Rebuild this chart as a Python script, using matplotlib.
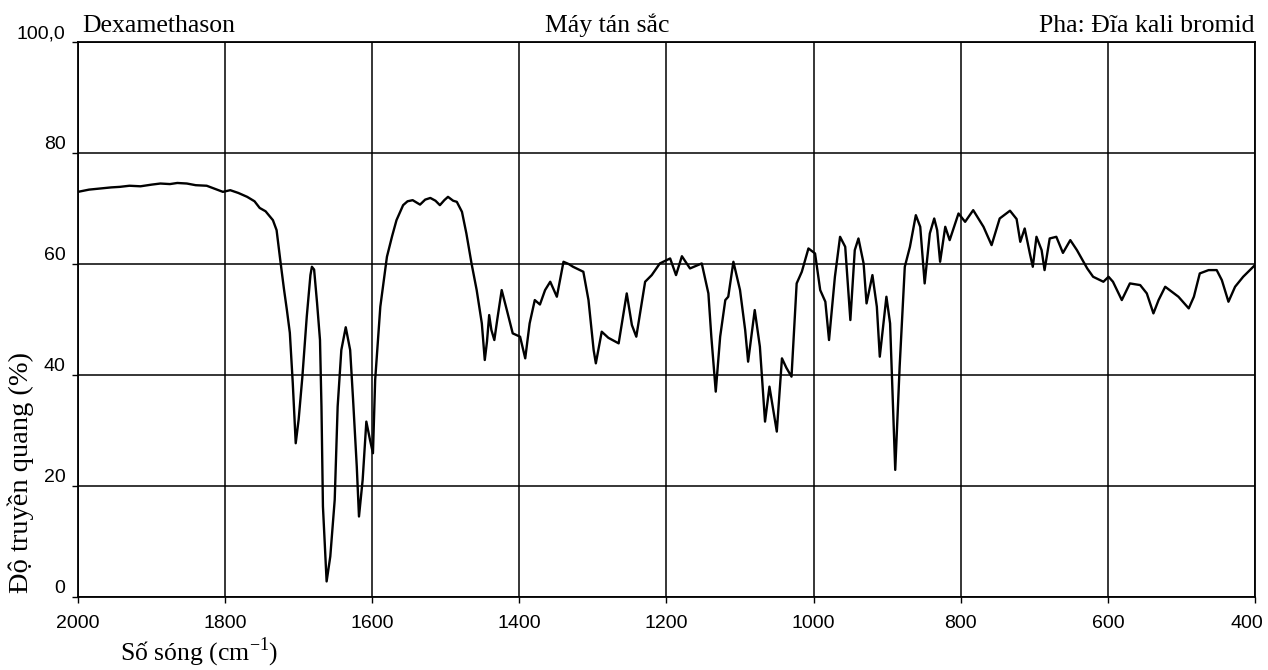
import numpy as np
import matplotlib
matplotlib.use("Agg")
import matplotlib.pyplot as plt
import matplotlib.transforms as mtransforms

# IR spectrum of dexamethasone (KBr disc), transmittance vs wavenumber
wavenumber = [2000, 1985, 1970, 1955, 1943, 1930, 1915, 1900, 1888, 1875, 1865, 1852,
              1840, 1825, 1815, 1803, 1793, 1782, 1770, 1760, 1753, 1745, 1735, 1730,
              1725, 1720, 1716, 1712, 1708, 1704, 1700, 1695, 1689, 1684, 1682, 1679,
              1675, 1671, 1669, 1667, 1662, 1657, 1651, 1647, 1642, 1636, 1630, 1626,
              1621, 1618, 1613, 1608, 1603, 1599, 1596, 1589, 1580, 1573, 1567, 1558,
              1552, 1545, 1535, 1528, 1521, 1514, 1508, 1502, 1497, 1490, 1485, 1478,
              1472, 1465, 1458, 1451, 1447, 1444, 1441, 1438, 1434, 1430, 1424, 1417,
              1409, 1399, 1392, 1386, 1379, 1372, 1365, 1358, 1349, 1340, 1333, 1327,
              1313, 1306, 1299, 1296, 1288, 1279, 1265, 1254, 1247, 1241, 1229, 1220,
              1209, 1195, 1187, 1179, 1168, 1152, 1143, 1139, 1133, 1127, 1120, 1116,
              1109, 1100, 1093, 1089, 1080, 1073, 1066, 1060, 1050, 1043, 1037, 1030,
              1023, 1016, 1007, 998, 991, 984, 979, 971, 964, 957, 950, 944,
              939, 932, 928, 920, 914, 910, 901, 896, 889, 883, 876, 869,
              861, 855, 849, 842, 836, 832, 828, 821, 815, 803, 794, 783,
              769, 758, 747, 733, 724, 719, 713, 706, 702, 697, 690, 686,
              679, 670, 661, 651, 642, 628, 620, 606, 599, 593, 581, 570,
              556, 547, 538, 531, 522, 513, 504, 490, 483, 475, 463, 452,
              445, 436, 427, 416, 400]
transmittance = [73.0, 73.4, 73.6, 73.8, 73.9, 74.1, 74.0, 74.3, 74.5, 74.4, 74.6, 74.5,
                 74.2, 74.1, 73.6, 73.0, 73.3, 72.8, 72.1, 71.3, 70.1, 69.5, 67.9, 66.1,
                 60.7, 55.5, 51.7, 47.6, 38.5, 27.7, 32.0, 39.6, 50.5, 58.0, 59.5, 59.0,
                 53.0, 46.3, 34.3, 16.3, 2.8, 7.3, 17.5, 34.3, 44.5, 48.6, 44.5, 35.5,
                 23.5, 14.5, 21.1, 31.6, 28.3, 25.9, 39.1, 52.3, 61.3, 65.0, 67.9, 70.6,
                 71.3, 71.5, 70.7, 71.6, 71.9, 71.4, 70.6, 71.5, 72.1, 71.4, 71.2, 69.4,
                 65.5, 60.1, 55.3, 49.3, 42.7, 46.0, 50.8, 48.1, 46.3, 50.0, 55.3, 51.7,
                 47.5, 46.9, 43.0, 49.3, 53.5, 52.7, 55.3, 56.8, 54.1, 60.4, 60.0, 59.5,
                 58.6, 53.5, 44.5, 42.1, 47.8, 46.7, 45.7, 54.7, 49.0, 46.9, 56.8, 58.0,
                 60.1, 61.0, 58.0, 61.4, 59.2, 60.1, 54.7, 46.9, 37.0, 46.9, 53.5, 54.1,
                 60.4, 55.3, 48.1, 42.4, 51.7, 45.1, 31.6, 37.9, 29.8, 43.0, 41.3, 39.7,
                 56.5, 58.6, 62.8, 61.9, 55.3, 53.2, 46.3, 57.7, 64.9, 63.1, 49.9, 62.5,
                 64.6, 60.1, 52.9, 58.0, 52.3, 43.3, 54.1, 49.3, 22.9, 41.5, 59.5, 63.1,
                 68.8, 66.7, 56.5, 65.5, 68.2, 66.1, 60.4, 66.7, 64.3, 69.1, 67.6, 69.7,
                 66.7, 63.4, 68.2, 69.6, 68.1, 64.0, 66.4, 61.9, 59.5, 64.9, 62.5, 58.9,
                 64.6, 64.9, 62.0, 64.3, 62.5, 59.2, 57.7, 56.8, 57.7, 56.8, 53.5, 56.5,
                 56.2, 54.7, 51.1, 53.5, 55.9, 55.0, 54.1, 52.0, 54.1, 58.3, 58.9, 58.9,
                 57.1, 53.2, 55.9, 57.7, 59.8]

x_ticks = [2000, 1800, 1600, 1400, 1200, 1000, 800, 600, 400]
y_ticks = [0, 20, 40, 60, 80, 100]
y_tick_labels = ["0", "20", "40", "60", "80", "100,0"]

plt.rcParams["mathtext.fontset"] = "custom"
plt.rcParams["mathtext.rm"] = "Liberation Serif"
serif = ["Liberation Serif", "DejaVu Serif"]

fig = plt.figure(figsize=(12.68, 6.70), dpi=100)
ax = fig.add_axes([0.0615, 0.109, 0.9282, 0.8283])

ax.plot(wavenumber, transmittance, color="black", linewidth=1.7)

ax.set_xlim(2000, 400)
ax.set_ylim(0, 100)
ax.set_xticks(x_ticks)
ax.set_xticklabels([str(t) for t in x_ticks])
ax.set_yticks(y_ticks)
ax.set_yticklabels(y_tick_labels)
ax.grid(True, color="black", linewidth=1.1)
ax.set_axisbelow(True)
for s in ax.spines.values():
    s.set_linewidth(1.3)

ax.tick_params(direction="out", length=4, width=1, colors="black")
ax.tick_params(axis="x", pad=9)
ax.tick_params(axis="y", pad=5)
for lab in ax.get_xticklabels() + ax.get_yticklabels():
    lab.set_fontfamily("Liberation Sans")
    lab.set_fontsize(14)
for lab in ax.get_yticklabels():
    lab.set_verticalalignment("bottom")

# last x label sits a bit inside the right edge
last = ax.get_xticklabels()[-1]
last.set_transform(last.get_transform() +
                   mtransforms.ScaledTranslation(-8 / 100, 0, fig.dpi_scale_trans))

# header line above the plot
ax.text(0.004, 1.018, "Dexamethason", transform=ax.transAxes, ha="left",
        va="baseline", fontsize=18.5, family=serif)
ax.text(0.45, 1.018, "Máy tán sắc", transform=ax.transAxes, ha="center",
        va="baseline", fontsize=18.5, family=serif)
ax.text(1.0, 1.018, "Pha: Đĩa kali bromid", transform=ax.transAxes, ha="right",
        va="baseline", fontsize=18.5, family=serif)

fig.text(0.016, 0.295, "Độ truyền quang (%)", rotation=90, ha="center",
         va="center", fontsize=20.5, family=serif)
fig.text(0.0946, 0.027, r"Số sóng (cm$^{\mathregular{-1}}$)", ha="left",
         va="center", fontsize=18.5, family=serif)

fig.savefig("out.png", dpi=100, facecolor="white")
